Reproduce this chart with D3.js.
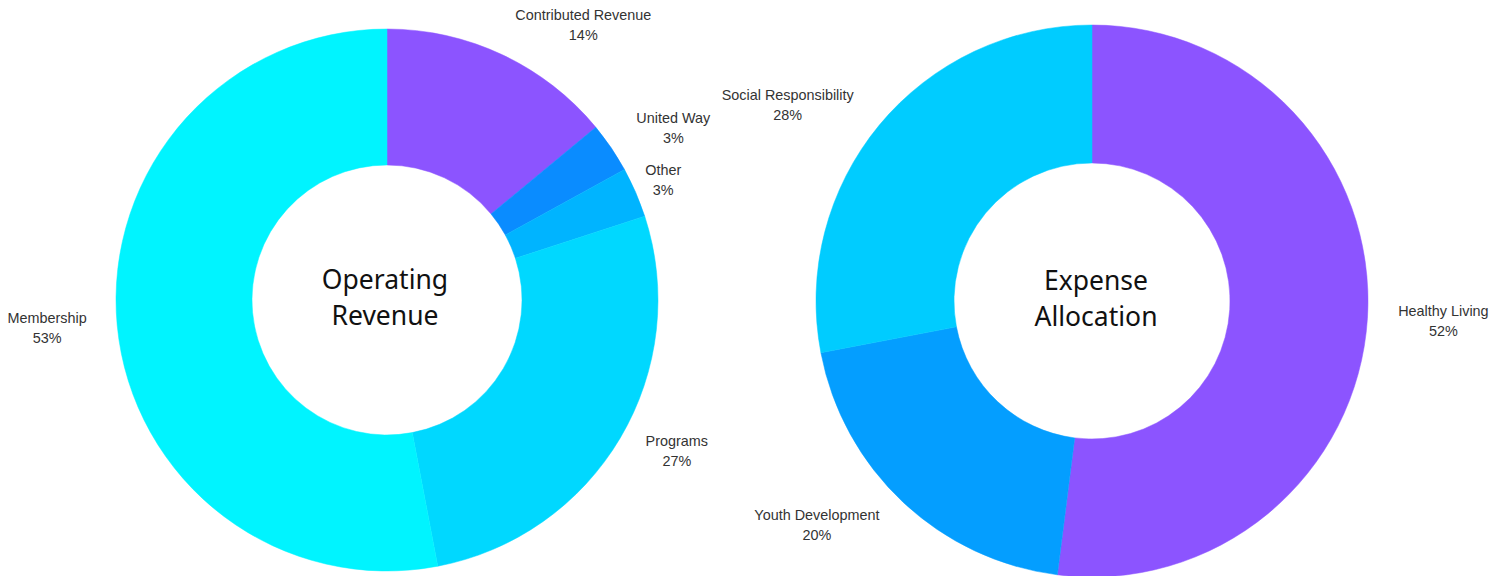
<!DOCTYPE html>
<html>
<head>
<meta charset="utf-8">
<script src="https://cdn.jsdelivr.net/npm/d3@7/dist/d3.min.js"></script>
<style>
  html, body { margin: 0; padding: 0; background: #ffffff; }
  svg { display: block; }
</style>
</head>
<body>
<svg id="chart" width="1509" height="576"></svg>
<script>
// ---- Data ----
const revenueCategories = ["Contributed Revenue", "United Way", "Other", "Programs", "Membership"];
const revenueValues = [14, 3, 3, 27, 53];
const revenueColors = ["#8c54ff", "#0a8cff", "#00b4ff", "#00d8ff", "#00f4ff"];
const revenueTitle = ["Operating", "Revenue"];

const expenseCategories = ["Healthy Living", "Youth Development", "Social Responsibility"];
const expenseValues = [52, 20, 28];
const expenseColors = ["#8c54ff", "#049eff", "#00ccff"];
const expenseTitle = ["Expense", "Allocation"];

// ---- Layout (label placement tweaks: angle shift in degrees, label distance) ----
const revenueLabelShift = [10.3, 3.2, 0, -3, 0.7];
const revenueLabelDist = [338, 334, 301, 327, 341];
const expenseLabelShift = [-0.3, 7.6, -6.8];
const expenseLabelDist = [352, 355, 362];

const svg = d3.select("#chart");

function drawDonut(cfg) {
  const g = svg.append("g").attr("transform", `translate(${cfg.cx},${cfg.cy})`);
  const pie = d3.pie().sort(null).value(d => d.value);
  const arcs = pie(cfg.categories.map((c, i) => ({ name: c, value: cfg.values[i], color: cfg.colors[i] })));
  const arc = d3.arc().innerRadius(cfg.inner).outerRadius(cfg.outer);

  g.selectAll("path.slice").data(arcs).enter().append("path")
    .attr("class", "slice")
    .attr("d", arc)
    .attr("fill", d => d.data.color)
    .attr("stroke", d => d.data.color)
    .attr("stroke-width", 0.5);

  const lbl = g.selectAll("g.lbl").data(arcs).enter().append("g")
    .attr("class", "lbl")
    .attr("transform", (d, i) => {
      const a = (d.startAngle + d.endAngle) / 2 + cfg.shift[i] * Math.PI / 180;
      const r = cfg.dist[i];
      return `translate(${r * Math.sin(a)},${-r * Math.cos(a)})`;
    });
  lbl.append("text")
    .attr("text-anchor", "middle")
    .attr("y", -5)
    .attr("font-family", "'Liberation Sans', Arial, sans-serif")
    .attr("font-size", 14.4)
    .attr("fill", "#333333")
    .text(d => d.data.name);
  lbl.append("text")
    .attr("text-anchor", "middle")
    .attr("y", 15)
    .attr("font-family", "'Liberation Sans', Arial, sans-serif")
    .attr("font-size", 14.4)
    .attr("fill", "#333333")
    .text(d => d.data.value + "%");

  g.selectAll("text.title").data(cfg.title).enter().append("text")
    .attr("class", "title")
    .attr("text-anchor", "middle")
    .attr("x", cfg.titleDx)
    .attr("y", (d, i) => -11 + i * 36)
    .attr("font-family", "'Noto Sans', 'DejaVu Sans', sans-serif")
    .attr("font-size", 26.5)
    .attr("fill", "#111111")
    .text(d => d);
}

drawDonut({
  cx: 387, cy: 300, outer: 271, inner: 135, titleDx: -2,
  categories: revenueCategories, values: revenueValues, colors: revenueColors,
  title: revenueTitle, shift: revenueLabelShift, dist: revenueLabelDist
});

drawDonut({
  cx: 1092, cy: 301, outer: 276, inner: 138, titleDx: 4,
  categories: expenseCategories, values: expenseValues, colors: expenseColors,
  title: expenseTitle, shift: expenseLabelShift, dist: expenseLabelDist
});
</script>
</body>
</html>
